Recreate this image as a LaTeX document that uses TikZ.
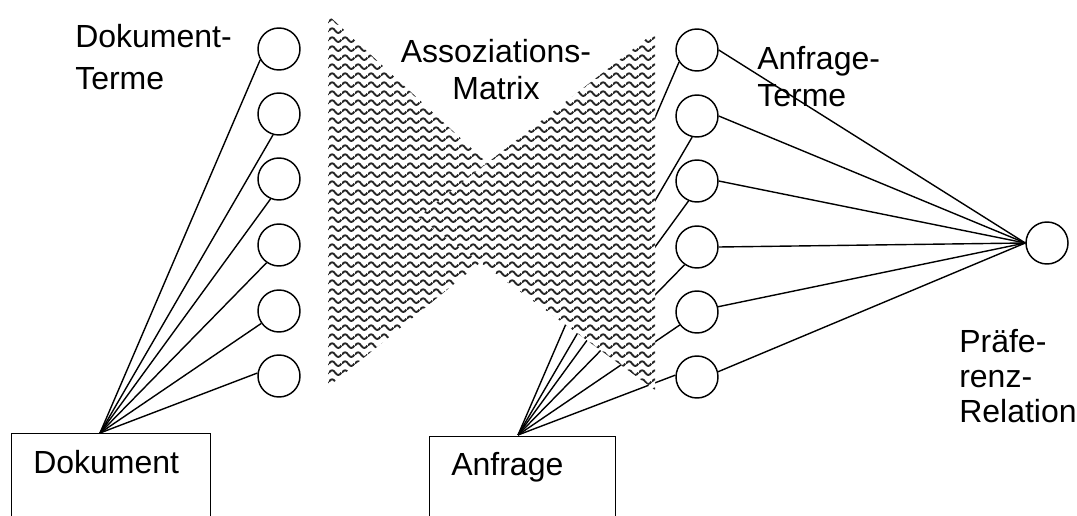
\documentclass[tikz,border=0pt]{standalone}
\usepackage{fontspec}
\setmainfont{Liberation Sans}
\usetikzlibrary{patterns}
\pgfdeclarepatternformonly{mywaves}{\pgfqpoint{0pt}{0pt}}{\pgfqpoint{9.5pt}{7pt}}{\pgfqpoint{9.5pt}{7pt}}{%
  \pgfsetlinewidth{1.5pt}%
  \pgfpathmoveto{\pgfqpoint{0pt}{3.5pt}}%
  \pgfpathcurveto{\pgfqpoint{1.6pt}{6pt}}{\pgfqpoint{3.15pt}{6pt}}{\pgfqpoint{4.75pt}{3.5pt}}%
  \pgfpathcurveto{\pgfqpoint{6.35pt}{1pt}}{\pgfqpoint{7.9pt}{1pt}}{\pgfqpoint{9.5pt}{3.5pt}}%
  \pgfusepath{stroke}%
}
\begin{document}
\begin{tikzpicture}[x=0.75pt,y=-0.75pt,
  term/.style={circle,draw,line width=1.1pt,minimum size=31.5pt,inner sep=0pt,fill=white},
  boxnode/.style={draw,line width=1.1pt,anchor=north west,minimum height=90pt,inner sep=0pt},
  lbl/.style={font=\fontsize{24}{27.75}\selectfont,inner sep=0pt,anchor=base west,align=left},
  conn/.style={line width=1.05pt},
  matrixfill/.style={preaction={fill=white},pattern=mywaves,pattern color=black!85}]
\useasboundingbox (0,0) rectangle (1077,516);
\clip (0,0) rectangle (1077,516);

% boxes
\node[boxnode,minimum width=149.25pt] (dok) at (11,433) {};
\node[boxnode,minimum width=139.5pt] (anf) at (429,436) {};
\coordinate (dokapex) at (100,433);
\coordinate (anfapex) at (518,435);

% term circles
\foreach \i/\y in {1/49,2/114,3/179,4/245,5/311,6/376}
  \node[term] (l\i) at (279,\y) {};
\foreach \i/\y in {1/50,2/116,3/181,4/247,5/312,6/377}
  \node[term] (r\i) at (697,\y) {};
\node[term] (pref) at (1047,243) {};

% connectors document side
\draw[conn] (dokapex) -- (l1.210);
\draw[conn] (dokapex) -- (l2.254);
\draw[conn] (dokapex) -- (l3.247);
\draw[conn] (dokapex) -- (l4.235);
\draw[conn] (dokapex) -- (l5.215);
\draw[conn] (dokapex) -- (l6.172);

% connectors query side
\draw[conn] (anfapex) -- (r1.214);
\draw[conn] (anfapex) -- (r2.257);
\draw[conn] (anfapex) -- (r3.247);
\draw[conn] (anfapex) -- (r4.235);
\draw[conn] (anfapex) -- (r5.217);
\draw[conn] (anfapex) -- (r6.175);

% connectors to preference relation
\draw[conn] (r1.east) -- (pref.west);
\draw[conn] (r2.east) -- (pref.west);
\draw[conn] (r3.east) -- (pref.west);
\draw[conn] (r4.east) -- (pref.west);
\draw[conn] (r5.14) -- (pref.west);
\draw[conn] (r6.14) -- (pref.west);

% association matrix (bow tie)
\fill[matrixfill] (328,15) -- (328,387) -- (541,213) -- cycle;
\fill[matrixfill] (655,32) -- (655,390) -- (418,217) -- cycle;

% labels (base anchor = baseline of last line)
\node[lbl,font=\fontsize{24}{32}\selectfont] (tdok) at (75,90) {Dokument-\\Terme};
\node[lbl,align=center,anchor=base] (tmat) at (496,100) {Assoziations-\\Matrix};
\node[lbl] (tanf) at (757,107) {Anfrage-\\Terme};
\node[lbl,font=\fontsize{24}{26.25}\selectfont] (tpref) at (959,422) {Präfe-\\renz-\\Relation};
\node[lbl] (tdokbox) at (33,473) {Dokument};
\node[lbl] (tanfbox) at (451,475) {Anfrage};
\end{tikzpicture}
\end{document}
